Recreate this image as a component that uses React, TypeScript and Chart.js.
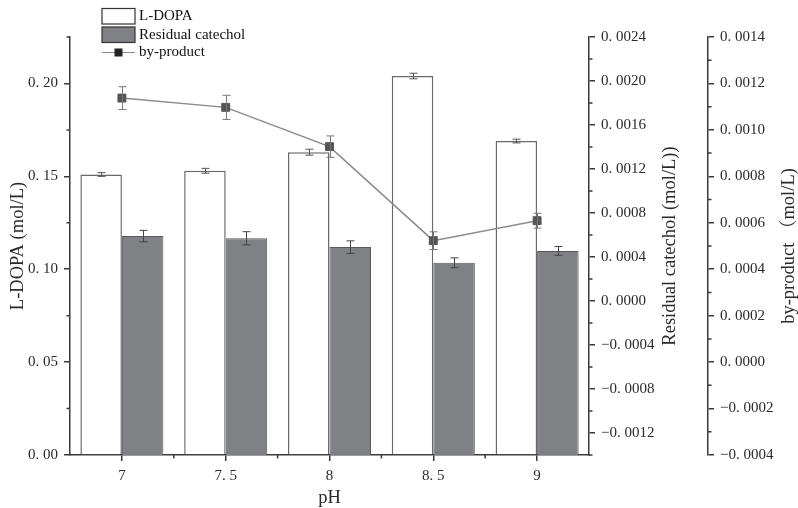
import React, { useEffect, useRef } from 'react';
import { Chart, registerables } from 'chart.js';

Chart.register(...registerables);

// ---------- data ----------
const PH_LABELS = ['7', '7.5', '8', '8.5', '9'];

const L_DOPA = [0.151, 0.153, 0.163, 0.204, 0.169];
const L_DOPA_ERR = [0.001, 0.0013, 0.0016, 0.0015, 0.001];

const CATECHOL = [0.00059, 0.00057, 0.00049, 0.000347, 0.000455];
const CATECHOL_ERR = [0.000052, 0.00006, 0.000057, 0.000045, 0.00004];

const BYPRODUCT = [0.001137, 0.001097, 0.000928, 0.000523, 0.000609];
const BYPRODUCT_ERR = [0.000049, 0.000052, 0.000046, 0.000038, 0.000032];

// ---------- axis ticks ----------
const L_RANGE = [0, 0.225];
const L_TICKS = [0, 0.05, 0.1, 0.15, 0.2];
const L_MINOR = [0.025, 0.075, 0.125, 0.175, 0.225];

const CAT_RANGE = [-0.0014, 0.0024];
const CAT_TICKS = [-0.0012, -0.0008, -0.0004, 0, 0.0004, 0.0008, 0.0012, 0.0016, 0.002, 0.0024];
const CAT_MINOR = [-0.0014, -0.001, -0.0006, -0.0002, 0.0002, 0.0006, 0.001, 0.0014, 0.0018, 0.0022];

const BY_RANGE = [-0.0004, 0.0014];
const BY_TICKS = [-0.0004, -0.0002, 0, 0.0002, 0.0004, 0.0006, 0.0008, 0.001, 0.0012, 0.0014];
const BY_MINOR = [-0.0003, -0.0001, 0.0001, 0.0003, 0.0005, 0.0007, 0.0009, 0.0011, 0.0013];

const SERIF = '"Liberation Serif", "Times New Roman", "Noto Serif CJK SC", "Noto Sans CJK SC", serif';
const AXIS_COLOR = '#3a3a3a';
const TEXT_COLOR = '#2a2a2a';
const BAR_GRAY = '#808184';
const LINE_GRAY = '#8a8a8a';
const MARKER = '#555555';

const fmt = (v: number, d: number) => {
  const neg = v < 0 && Math.abs(v) > 1e-12;
  const s = Math.abs(v).toFixed(d).replace('.', '. ');
  return neg ? '\u2212' + s : s;
};

const whiteBg = {
  id: 'whiteBg',
  beforeDraw(chart: any) {
    const { ctx, width, height } = chart;
    ctx.save();
    ctx.fillStyle = '#ffffff';
    ctx.fillRect(0, 0, width, height);
    ctx.restore();
  },
};

const errorBars = {
  id: 'errorBars',
  afterDatasetsDraw(chart: any) {
    const ctx = chart.ctx;
    const specs = [
      { idx: 0, axis: 'y', vals: L_DOPA, errs: L_DOPA_ERR, color: '#555', cap: 4 },
      { idx: 1, axis: 'y1', vals: CATECHOL, errs: CATECHOL_ERR, color: '#444', cap: 4 },
      { idx: 2, axis: 'y2', vals: BYPRODUCT, errs: BYPRODUCT_ERR, color: '#777', cap: 4 },
    ];
    ctx.save();
    ctx.lineWidth = 1;
    for (const s of specs) {
      const meta = chart.getDatasetMeta(s.idx);
      const scale = chart.scales[s.axis];
      ctx.strokeStyle = s.color;
      meta.data.forEach((el: any, j: number) => {
        const x = Math.round(el.x) + 0.5;
        const yt = scale.getPixelForValue(s.vals[j] + s.errs[j]);
        const yb = scale.getPixelForValue(s.vals[j] - s.errs[j]);
        ctx.beginPath();
        ctx.moveTo(x, yt);
        ctx.lineTo(x, yb);
        ctx.moveTo(x - s.cap, yt);
        ctx.lineTo(x + s.cap, yt);
        ctx.moveTo(x - s.cap, yb);
        ctx.lineTo(x + s.cap, yb);
        ctx.stroke();
      });
    }
    ctx.restore();
  },
};

const decorations = {
  id: 'decorations',
  afterDraw(chart: any) {
    const ctx = chart.ctx;
    const { y, y1, y2, x } = chart.scales;
    const area = chart.chartArea;
    ctx.save();
    ctx.strokeStyle = AXIS_COLOR;
    ctx.lineWidth = 1.5;
    // minor ticks
    const minor = 3.5;
    ctx.beginPath();
    L_MINOR.forEach((v) => {
      const py = y.getPixelForValue(v);
      ctx.moveTo(area.left, py);
      ctx.lineTo(area.left - minor, py);
    });
    CAT_MINOR.forEach((v) => {
      const py = y1.getPixelForValue(v);
      ctx.moveTo(y1.left, py);
      ctx.lineTo(y1.left + minor, py);
    });
    BY_MINOR.forEach((v) => {
      const py = y2.getPixelForValue(v);
      ctx.moveTo(y2.left, py);
      ctx.lineTo(y2.left + minor, py);
    });
    for (let i = 0; i < PH_LABELS.length - 1; i++) {
      const px = (x.getPixelForValue(i) + x.getPixelForValue(i + 1)) / 2;
      ctx.moveTo(px, area.bottom);
      ctx.lineTo(px, area.bottom + minor);
    }
    ctx.stroke();

    // axis titles
    ctx.fillStyle = TEXT_COLOR;
    ctx.font = `18.5px ${SERIF}`;
    ctx.textAlign = 'center';
    ctx.textBaseline = 'middle';
    const midY = (area.top + area.bottom) / 2;
    const vTitle = (text: string, px: number) => {
      ctx.save();
      ctx.translate(px, midY);
      ctx.rotate(-Math.PI / 2);
      ctx.fillText(text, 0, 0);
      ctx.restore();
    };
    vTitle('L-DOPA (mol/L)', y.left + 18);
    vTitle('Residual catechol (mol/L))', y1.right - 38);
    vTitle('by-product （mol/L)', y2.right - 9);
    ctx.fillText('pH', (area.left + area.right) / 2, 498);

    // legend
    const bx = 102, bw = 33;
    ctx.lineWidth = 1.2;
    ctx.fillStyle = '#ffffff';
    ctx.strokeStyle = '#333';
    ctx.fillRect(bx, 8.5, bw, 15.5);
    ctx.strokeRect(bx, 8.5, bw, 15.5);
    ctx.fillStyle = BAR_GRAY;
    ctx.fillRect(bx, 27, bw, 15.5);
    ctx.strokeRect(bx, 27, bw, 15.5);
    ctx.strokeStyle = LINE_GRAY;
    ctx.lineWidth = 1.2;
    ctx.beginPath();
    ctx.moveTo(bx, 52.5);
    ctx.lineTo(bx + bw, 52.5);
    ctx.stroke();
    ctx.fillStyle = '#222';
    ctx.fillRect(bx + bw / 2 - 4, 48.5, 8, 8);
    ctx.fillStyle = '#111';
    ctx.font = `15px ${SERIF}`;
    ctx.textAlign = 'left';
    ctx.textBaseline = 'middle';
    ctx.fillText('L-DOPA', 139, 16.5);
    ctx.fillText('Residual catechol', 139, 35);
    ctx.fillText('by-product', 139, 52.5);
    ctx.restore();
  },
};

const tickFont = { family: SERIF, size: 15 };

export default function App() {
  const ref = useRef<HTMLCanvasElement | null>(null);

  useEffect(() => {
    document.body.style.margin = '0';
    const canvas = ref.current;
    if (!canvas) return;
    const chart = new Chart(canvas, {
      type: 'bar',
      data: {
        labels: PH_LABELS,
        datasets: [
          {
            type: 'bar',
            label: 'L-DOPA',
            data: L_DOPA,
            yAxisID: 'y',
            backgroundColor: '#ffffff',
            borderColor: '#6a6a6a',
            borderWidth: 1.5,
            categoryPercentage: 0.8,
            barPercentage: 1.0,
            order: 1,
          },
          {
            type: 'bar',
            label: 'Residual catechol',
            data: CATECHOL,
            yAxisID: 'y1',
            base: CAT_RANGE[0],
            backgroundColor: BAR_GRAY,
            borderColor: '#5a5a5c',
            borderWidth: 1,
            categoryPercentage: 0.8,
            barPercentage: 1.0,
            order: 1,
          },
          {
            type: 'line',
            label: 'by-product',
            data: BYPRODUCT,
            yAxisID: 'y2',
            borderColor: LINE_GRAY,
            borderWidth: 1.5,
            pointStyle: 'rect',
            pointRadius: 5.6,
            pointBackgroundColor: MARKER,
            pointBorderColor: MARKER,
            pointBorderWidth: 1,
            tension: 0,
            order: 0,
          },
        ] as any,
      },
      options: {
        animation: false,
        responsive: false,
        devicePixelRatio: 1,
        layout: { padding: { top: 37, left: 0, right: 0, bottom: 0 } },
        plugins: {
          legend: { display: false },
          tooltip: { enabled: false },
        },
        scales: {
          x: {
            type: 'category',
            offset: true,
            grid: {
              offset: false,
              drawOnChartArea: false,
              drawTicks: true,
              tickLength: 6,
              color: AXIS_COLOR,
              lineWidth: 1.5,
            },
            border: { display: true, color: AXIS_COLOR, width: 1.5 },
            ticks: {
              font: tickFont,
              color: TEXT_COLOR,
              padding: 6,
              maxRotation: 0,
              callback: (_v: any, i: number) => PH_LABELS[i].replace('.', '. '),
            },
            afterFit: (s: any) => { s.height = 53; },
          },
          y: {
            type: 'linear',
            position: 'left',
            min: L_RANGE[0],
            max: L_RANGE[1],
            afterBuildTicks: (s: any) => { s.ticks = L_TICKS.map((v) => ({ value: v })); },
            grid: { drawOnChartArea: false, tickLength: 6, color: AXIS_COLOR, lineWidth: 1.5 },
            border: { display: true, color: AXIS_COLOR, width: 1.5 },
            ticks: { font: tickFont, color: TEXT_COLOR, padding: 6, callback: (v: any) => fmt(Number(v), 2) },
            afterFit: (s: any) => { s.width = 70; },
          },
          y1: {
            type: 'linear',
            position: 'right',
            weight: 0,
            min: CAT_RANGE[0],
            max: CAT_RANGE[1],
            afterBuildTicks: (s: any) => { s.ticks = CAT_TICKS.map((v) => ({ value: v })); },
            grid: { drawOnChartArea: false, tickLength: 6, color: AXIS_COLOR, lineWidth: 1.5 },
            border: { display: true, color: AXIS_COLOR, width: 1.5 },
            ticks: { font: tickFont, color: TEXT_COLOR, padding: 6, callback: (v: any) => fmt(Number(v), 4) },
            afterFit: (s: any) => { s.width = 119; },
          },
          y2: {
            type: 'linear',
            position: 'right',
            weight: 1,
            min: BY_RANGE[0],
            max: BY_RANGE[1],
            afterBuildTicks: (s: any) => { s.ticks = BY_TICKS.map((v) => ({ value: v })); },
            grid: { drawOnChartArea: false, tickLength: 6, color: AXIS_COLOR, lineWidth: 1.5 },
            border: { display: true, color: AXIS_COLOR, width: 1.5 },
            ticks: { font: tickFont, color: TEXT_COLOR, padding: 6, callback: (v: any) => fmt(Number(v), 4) },
            afterFit: (s: any) => { s.width = 90; },
          },
        },
      } as any,
      plugins: [whiteBg, errorBars, decorations],
    });
    return () => chart.destroy();
  }, []);

  return (
    <div style={{ width: 798, height: 508, position: 'relative' }}>
      <canvas ref={ref} width={798} height={508} style={{ display: 'block' }} />
    </div>
  );
}
